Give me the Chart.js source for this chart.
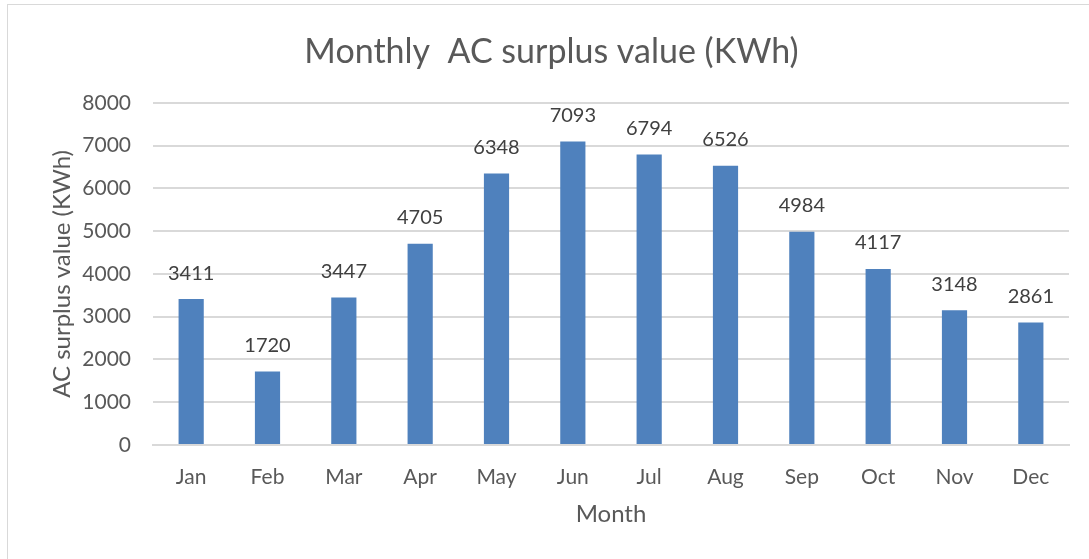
<!DOCTYPE html>
<html>
<head>
<meta charset="utf-8">
<script src="https://cdn.jsdelivr.net/npm/chart.js@4"></script>
<style>
  html, body { margin: 0; padding: 0; background: #fff; }
  #wrap { position: relative; width: 1089px; height: 559px; }
  #frame { position: absolute; left: 7px; top: 4px; width: 1100px; height: 600px; border: 1px solid #d9d9d9; box-sizing: border-box; }
  canvas { position: absolute; left: 0; top: 0; }
</style>
</head>
<body>
<div id="wrap">
  <div id="frame"></div>
  <canvas id="surplus" width="1089" height="559"></canvas>
</div>
<script>
const months = ['Jan', 'Feb', 'Mar', 'Apr', 'May', 'Jun', 'Jul', 'Aug', 'Sep', 'Oct', 'Nov', 'Dec'];
const surplus = [3411, 1720, 3447, 4705, 6348, 7093, 6794, 6526, 4984, 4117, 3148, 2861];

const FONT = 'Lato, "Open Sans", sans-serif';

// values above each bar
const barLabels = {
  id: 'barLabels',
  afterDatasetsDraw(chart) {
    const ctx = chart.ctx;
    const meta = chart.getDatasetMeta(0);
    ctx.save();
    ctx.font = '20px ' + FONT;
    ctx.fillStyle = '#404040';
    ctx.textAlign = 'center';
    ctx.textBaseline = 'middle';
    meta.data.forEach((bar, i) => {
      ctx.fillText(String(surplus[i]), bar.x, bar.y - 26);
    });
    ctx.restore();
  }
};

new Chart(document.getElementById('surplus'), {
  type: 'bar',
  data: {
    labels: months,
    datasets: [{
      data: surplus,
      backgroundColor: '#4f81bd',
      borderWidth: 0,
      barPercentage: 0.33,
      categoryPercentage: 1
    }]
  },
  options: {
    responsive: false,
    animation: false,
    layout: { padding: { left: 34, right: 20, top: 0, bottom: 30 } },
    plugins: {
      legend: { display: false },
      tooltip: { enabled: false },
      title: {
        display: true,
        text: 'Monthly  AC surplus value (KWh)',
        color: '#595959',
        font: { family: FONT, size: 34, weight: 'normal' },
        padding: { top: 32, bottom: 30 }
      }
    },
    scales: {
      x: {
        grid: { display: false },
        border: { display: true, color: '#d9d9d9', width: 2 },
        ticks: { color: '#595959', font: { family: FONT, size: 21 }, padding: 12 },
        title: {
          display: true,
          text: 'Month',
          color: '#595959',
          font: { family: FONT, size: 24 },
          padding: { top: 10, bottom: 0 }
        },
        afterFit(scale) { scale.height = 84; }
      },
      y: {
        min: 0,
        max: 8000,
        ticks: {
          stepSize: 1000,
          color: '#595959',
          font: { family: FONT, size: 21 },
          padding: 22,
          callback: v => String(v)
        },
        grid: { color: '#d9d9d9', lineWidth: 2, drawTicks: false },
        border: { display: false },
        title: {
          display: true,
          text: 'AC surplus value (KWh)',
          color: '#595959',
          font: { family: FONT, size: 24 },
          padding: { top: 14, bottom: 10 }
        },
        afterFit(scale) { scale.width = 119; }
      }
    }
  },
  plugins: [barLabels]
});
</script>
</body>
</html>
